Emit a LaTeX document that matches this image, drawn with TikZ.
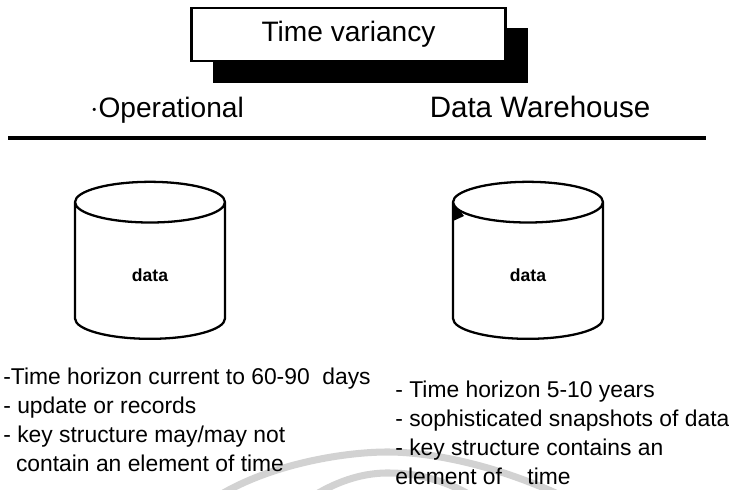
\documentclass[tikz,border=0pt]{standalone}
\usepackage{fontspec}
\setmainfont{Liberation Sans}
\usetikzlibrary{shapes.geometric}
\usetikzlibrary{positioning}
\tikzset{
    titlebox/.style = {rectangle, draw=black, line width=1.2pt, fill=white, minimum width=6.28cm, minimum height=1.06cm, font=\fontsize{16}{18}\selectfont},
    shadowbox/.style = {rectangle, fill=black, minimum width=6.3cm, minimum height=1.1cm},
    header/.style = {font=\fontsize{16}{18}\selectfont},
    store/.style = {cylinder, shape border rotate=90, aspect=0.85, draw=black, line width=1.3pt, minimum width=3cm, minimum height=3.14cm, font=\fontsize{10}{11}\selectfont\bfseries},
    notes/.style = {align=left, anchor=north west, inner sep=0pt, font=\fontsize{13}{16.5}\selectfont},
    arcline/.style = {line width=4pt, gray!35}
}

\begin{document}
\begin{tikzpicture}
  \useasboundingbox (0,0) rectangle (14.58,-9.78);
  % watermark
  \draw[arcline] (4.4,-9.9) .. controls (5.4,-9.3) and (6.8,-9.05) .. (7.7,-9.04) .. controls (8.6,-9.03) and (9.9,-9.3) .. (11.2,-9.9);
  \draw[arcline] (6.3,-9.9) .. controls (6.8,-9.6) and (7.3,-9.45) .. (7.8,-9.46) .. controls (8.3,-9.46) and (8.9,-9.6) .. (9.4,-9.9);
  % title
  \node (shadow) at (7.41,-1.11) [shadowbox] {};
  \node (title) at (6.97,-0.69) [titlebox] {Time variancy};
  \node (oper) at (3.34,-2.2) [header] {$\cdot$Operational};
  \node (ware) at (10.8,-2.14) [header,font=\fontsize{16.8}{18}\selectfont] {Data Warehouse};
  \coordinate (ruleL) at (0.16,-2.76);
  \coordinate (ruleR) at (14.12,-2.76);
  \draw[line width=2.2pt] (ruleL) -- (ruleR);
  % stores
  \node (opdata) at (3.0,-5.5) [store] {data};
  \node (dwdata) at (10.56,-5.5) [store] {data};
  \fill (9.06,-4.05) -- (9.28,-4.32) -- (9.06,-4.42) -- cycle;
  % text
  \node (optext) at (0.06,-7.36) [notes] {-Time horizon current to 60-90\ \ days\\- update or records\\- key structure may/may not\\\ \ contain an element of time};
  \node (dwtext) at (7.9,-7.62) [notes] {- Time horizon 5-10 years\\- sophisticated snapshots of data\\- key structure contains an\\element of\ \ \ \ time};
\end{tikzpicture}
\end{document}
